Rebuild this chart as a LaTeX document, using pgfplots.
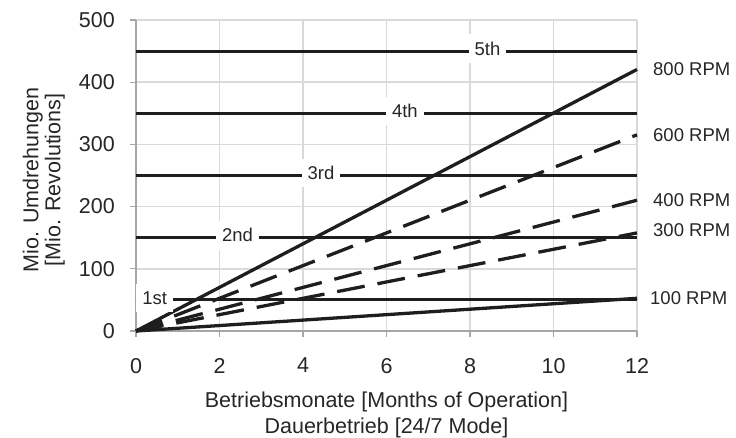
\documentclass[border=0pt]{standalone}
\usepackage{pgfplots}
\pgfplotsset{compat=1.18}
\usepackage{fontspec}
\setmainfont{Liberation Sans}
\definecolor{gridc}{HTML}{D9D9D9}
\definecolor{axc}{HTML}{A6A6A6}
\definecolor{lnc}{HTML}{1E1E1E}
\definecolor{txc}{HTML}{262626}
\newcommand{\axfont}{\fontsize{21.5}{26}\selectfont}
\newcommand{\ylfont}{\fontsize{21.5}{22}\selectfont}
\newcommand{\anfont}{\fontsize{18.5}{22}\selectfont}
\begin{document}
\begin{tikzpicture}
\path (-136pt,-107pt) rectangle (600pt,331pt);
\begin{axis}[
  at={(0pt,0pt)}, anchor=south west,
  scale only axis, width=501pt, height=311pt,
  xmin=0, xmax=12, ymin=0, ymax=500,
  xtick={0,2,4,6,8,10,12}, ytick={0,100,200,300,400,500},
  axis x line=bottom, axis y line=left,
  axis line style={-, axc, line width=1.5pt},
  tick align=outside, major tick length=6pt,
  tick style={axc, line width=1.3pt},
  grid=major, major grid style={gridc, line width=1.5pt},
  /pgf/number format/assume math mode=true,
  xticklabel style={font=\axfont, text=txc, anchor=north, inner sep=0pt, yshift=-21pt},
  yticklabel style={font=\axfont, text=txc, anchor=east, inner sep=0pt, xshift=-15pt},
  xlabel={Betriebsmonate [Months of Operation]\\Dauerbetrieb [24/7 Mode]},
  xlabel style={at={(axis description cs:0.5,-0.1945)}, anchor=north, inner sep=0pt, align=center, font=\axfont, text=txc},
  ylabel={Mio. Umdrehungen\\{[Mio. Revolutions]}},
  ylabel style={at={(axis description cs:-0.1417,0.4855)}, anchor=south, inner sep=0pt, align=center, font=\ylfont, text=txc},
  clip=false,
]
% generation thresholds
\addplot[lnc, line width=3pt] coordinates {(0,50) (12,50)};
\addplot[lnc, line width=3pt] coordinates {(0,150) (12,150)};
\addplot[lnc, line width=3pt] coordinates {(0,250) (12,250)};
\addplot[lnc, line width=3pt] coordinates {(0,350) (12,350)};
\addplot[lnc, line width=3pt] coordinates {(0,450) (12,450)};
% RPM series
\addplot[lnc, line width=3.3pt] coordinates {(0,0) (12,52.56)};
\addplot[lnc, line width=3.3pt, dash pattern=on 28pt off 13pt] coordinates {(0,0) (12,157.68)};
\addplot[lnc, line width=3.3pt, dash pattern=on 28pt off 13pt] coordinates {(0,0) (12,210.24)};
\addplot[lnc, line width=3.3pt, dash pattern=on 28pt off 13pt] coordinates {(0,0) (12,315.36)};
\addplot[lnc, line width=3.3pt] coordinates {(0,0) (12,420.48)};
% labels
\tikzset{genlbl/.style={fill=white, font=\anfont, text=txc, inner xsep=6pt, inner ysep=7.5pt, anchor=base, yshift=-4.3pt}}
\node[genlbl] at (axis cs:0.45,50) {1st};
\node[genlbl] at (axis cs:2.43,150) {2nd};
\node[genlbl] at (axis cs:4.43,250) {3rd};
\node[genlbl] at (axis cs:6.44,350) {4th};
\node[genlbl] at (axis cs:8.42,450) {5th};
\tikzset{rpmlbl/.style={anchor=west, font=\anfont, text=txc, inner sep=0pt}}
\node[rpmlbl, xshift=16pt] at (axis cs:12,420.48) {800 RPM};
\node[rpmlbl, xshift=16pt] at (axis cs:12,315.36) {600 RPM};
\node[rpmlbl, xshift=16pt] at (axis cs:12,210.24) {400 RPM};
\node[rpmlbl, xshift=16pt, yshift=3pt] at (axis cs:12,157.68) {300 RPM};
\node[rpmlbl, xshift=13pt] at (axis cs:12,52.56) {100 RPM};
\end{axis}
\end{tikzpicture}
\end{document}
